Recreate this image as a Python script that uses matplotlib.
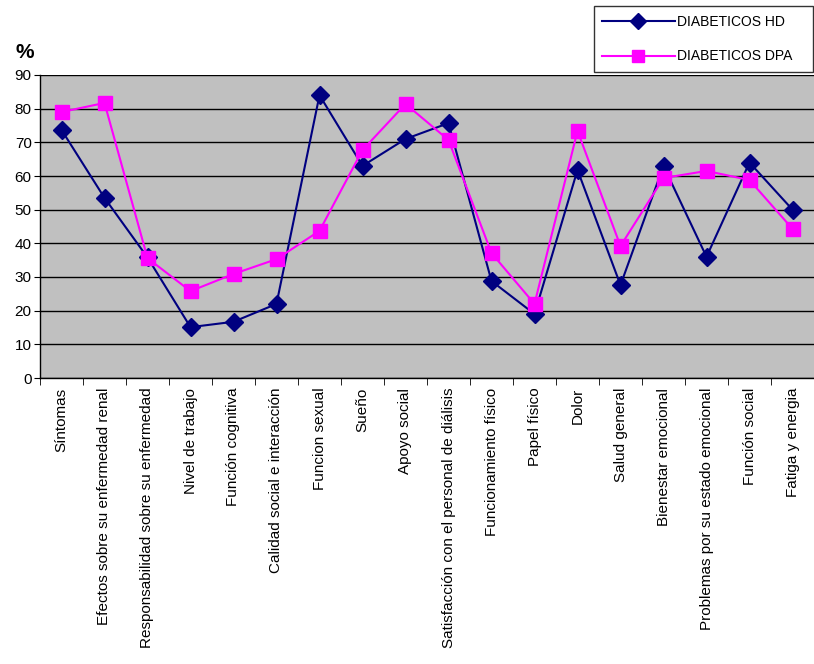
import matplotlib
matplotlib.use("Agg")
import matplotlib.pyplot as plt
import numpy as np

plt.rcParams['font.family'] = ['Liberation Sans', 'DejaVu Sans']

categories = ["Síntomas", "Efectos sobre su enfermedad renal",
              "Responsabilidad sobre su enfermedad", "Nivel de trabajo",
              "Función cognitiva", "Calidad social e interacción",
              "Funcion sexual", "Sueño", "Apoyo social",
              "Satisfacción con el personal de diálisis",
              "Funcionamiento físico", "Papel físico", "Dolor",
              "Salud general", "Bienestar emocional",
              "Problemas por su estado emocional", "Función social",
              "Fatiga y energia"]
hd = [73.7, 53.5, 35.8, 15.1, 16.7, 22.0, 84.0, 63.0, 71.0, 75.7,
      28.8, 19.0, 61.8, 27.6, 63.0, 36.0, 64.0, 50.0]
dpa = [79.0, 81.7, 35.6, 25.8, 30.9, 35.3, 43.7, 67.7, 81.4, 70.7,
       37.1, 22.0, 73.4, 39.2, 59.4, 61.5, 58.8, 44.3]
yticks = list(range(0, 91, 10))

fig = plt.figure(figsize=(8.14, 6.64), dpi=100)
ax = fig.add_axes([40/814, 1-378/664, 1-40/814, (378-75)/664])
ax.set_facecolor('#c0c0c0')
x = np.arange(len(categories))
ax.plot(x, hd, color='#000080', lw=1.5, marker='D', ms=9, mfc='#000080',
        mec='#000080', label='DIABETICOS HD', zorder=3)
ax.plot(x, dpa, color='#ff00ff', lw=1.5, marker='s', ms=10, mfc='#ff00ff',
        mec='#ff00ff', label='DIABETICOS DPA', zorder=3)
ax.set_ylim(0, 90)
ax.set_xlim(-0.5, len(categories) - 1 + 13/43.47)
ax.set_yticks(yticks)
ax.set_yticklabels([str(v) for v in yticks], fontsize=11)
ax.yaxis.grid(True, color='black', lw=1)
ax.set_axisbelow(True)
ax.set_xticks(x)
ax.set_xticklabels(categories, rotation=90, fontsize=11, va='top', ha='center')
ax.tick_params(axis='x', length=0, pad=7)
ax.set_xticks(np.arange(-0.5, len(categories), 1), minor=True)
ax.tick_params(axis='x', which='minor', length=5, direction='out', color='black')
ax.tick_params(axis='y', length=4, direction='out', pad=2)
for s in ['top', 'right']:
    ax.spines[s].set_visible(False)
ax.spines['left'].set_color('black')
ax.spines['bottom'].set_color('black')
ax.spines['left'].set_linewidth(1)
ax.spines['bottom'].set_linewidth(1)

fig.text(25/814, 1-52/664, '%', fontsize=15, fontweight='bold', ha='center', va='center')

leg = fig.legend(loc='center', bbox_to_anchor=(594/814, 1-73/664, 219/814, 68/664),
                 mode='expand', fontsize=10, frameon=True, fancybox=False,
                 edgecolor='black', borderpad=0.6, labelspacing=1.5,
                 handlelength=5.2, handletextpad=0.2, borderaxespad=0,
                 markerscale=0.85)
leg.get_frame().set_linewidth(1)

fig.savefig('out.png', dpi=100, facecolor='white')
